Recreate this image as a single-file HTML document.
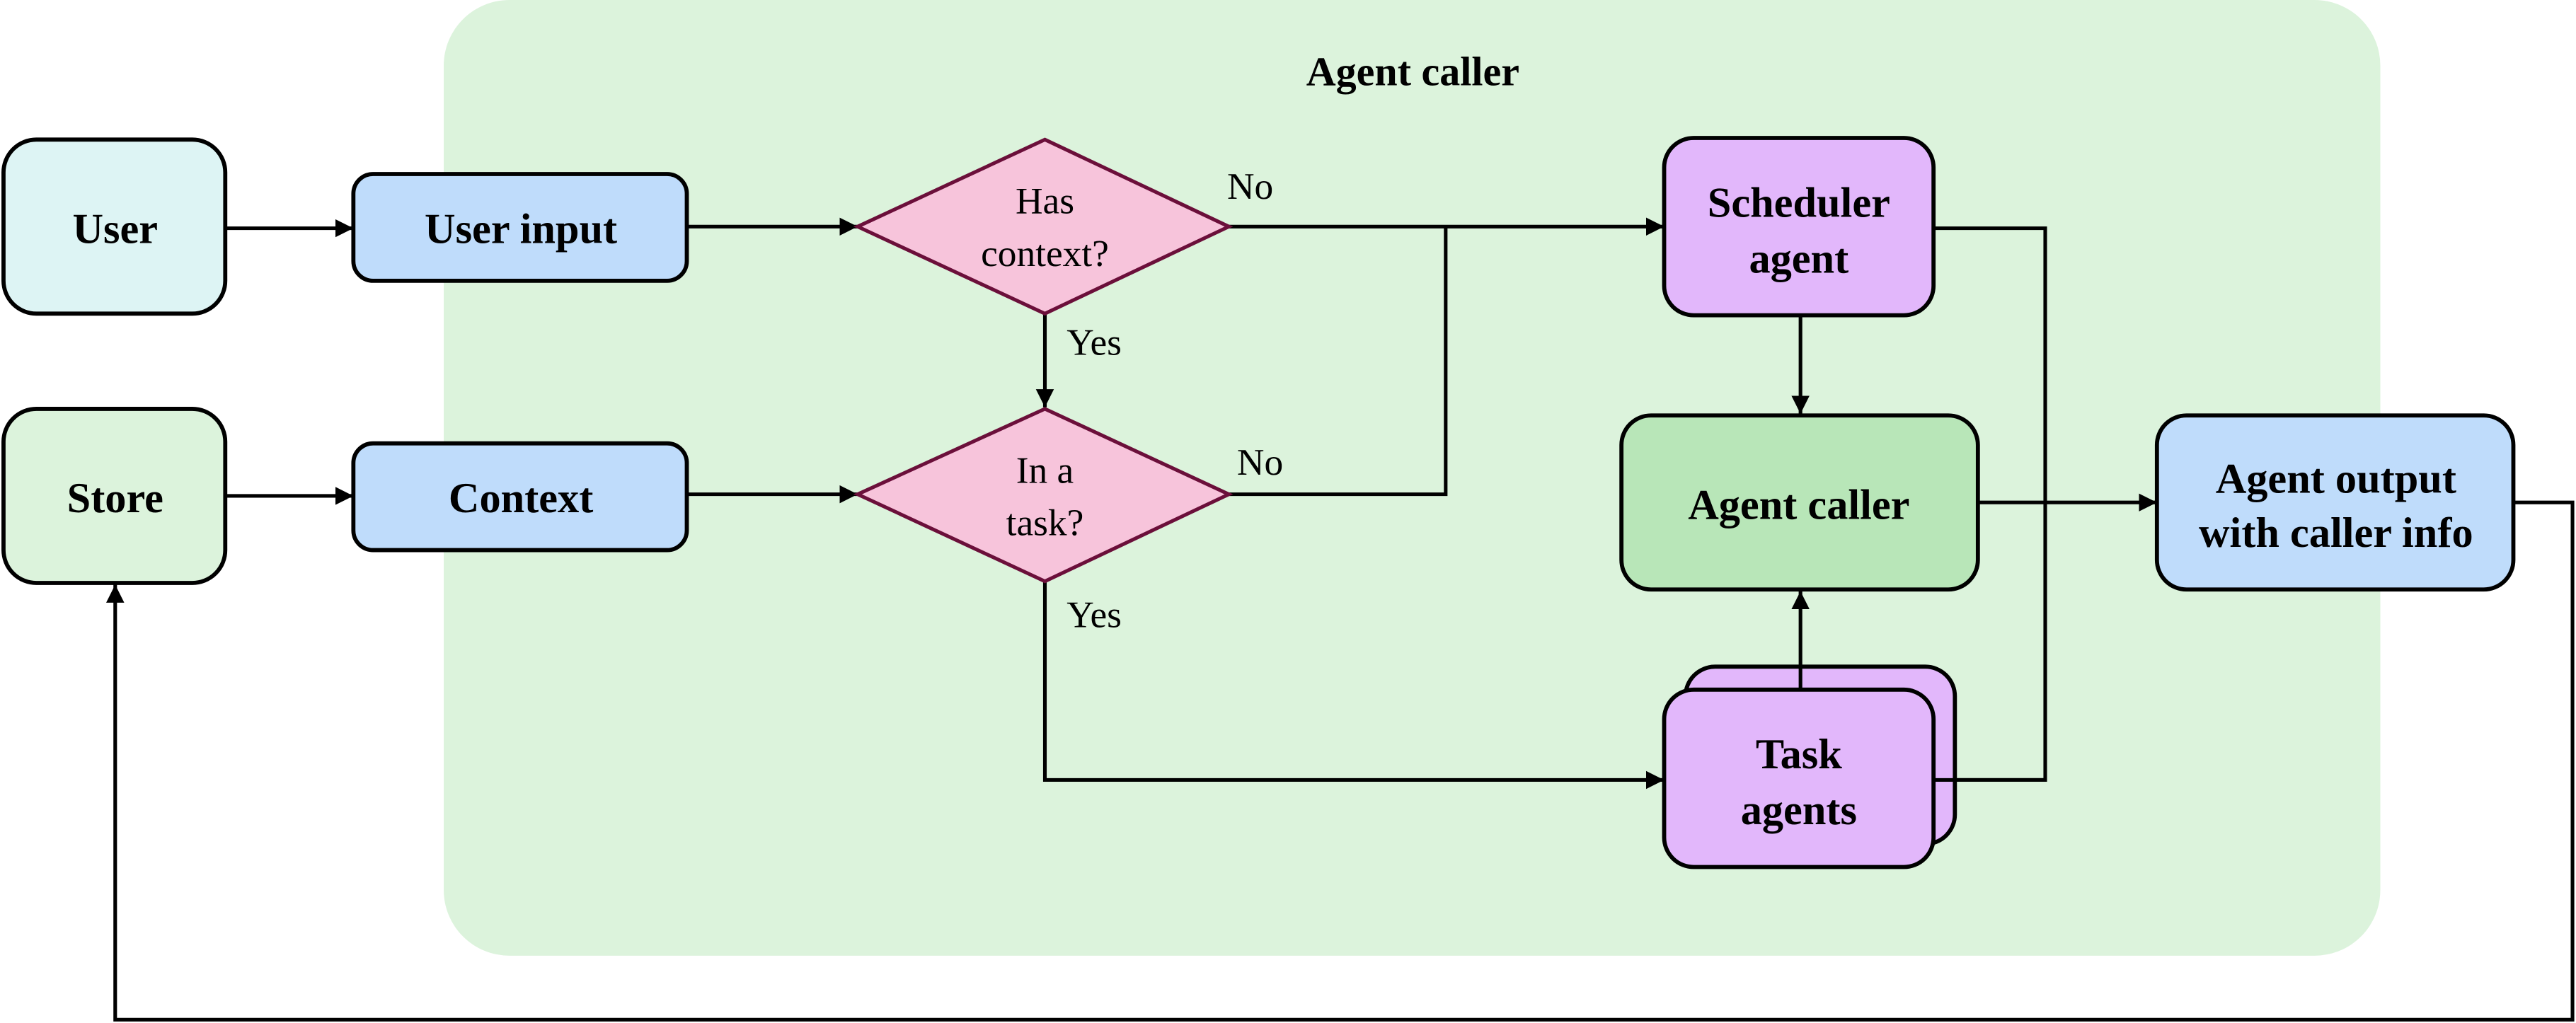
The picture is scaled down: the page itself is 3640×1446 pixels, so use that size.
<!DOCTYPE html>
<html><head><style>html,body{margin:0;padding:0;background:#fff}svg{display:block}text{font-family:"Liberation Serif","Times New Roman",serif}</style></head>
<body>
<svg width="3640" height="1446" viewBox="0 0 1568 623" xmlns="http://www.w3.org/2000/svg">
<defs><marker id="a" viewBox="0 0 10 10" refX="10" refY="5" markerWidth="5" markerHeight="5" orient="auto" markerUnits="strokeWidth"><path d="M0,0L10,5L0,10z" fill="#000"/></marker></defs>
<rect x="270" y="0" width="1179" height="582" rx="40" fill="#dcf3dc"/>
<text x="860" y="52" font-size="25" font-weight="bold" text-anchor="middle">Agent caller</text>
<g stroke="#000" stroke-width="2.2" fill="none">
<line x1="137" y1="139" x2="215" y2="139" marker-end="url(#a)"/>
<line x1="137" y1="302" x2="215" y2="302" marker-end="url(#a)"/>
<line x1="418" y1="138" x2="522" y2="138" marker-end="url(#a)"/>
<line x1="418" y1="301" x2="522" y2="301" marker-end="url(#a)"/>
<line x1="748" y1="138" x2="1013" y2="138" marker-end="url(#a)"/>
<polyline points="748,301 880,301 880,138"/>
<line x1="636" y1="191" x2="636" y2="248" marker-end="url(#a)"/>
<polyline points="636,354 636,475 1013,475" marker-end="url(#a)"/>
<line x1="1096" y1="192" x2="1096" y2="252" marker-end="url(#a)"/>
<polyline points="1177,139 1245,139 1245,475 1177,475"/>
<line x1="1204" y1="306" x2="1313" y2="306" marker-end="url(#a)"/>
<polyline points="1530,306 1566,306 1566,621 70,621 70,356" marker-end="url(#a)"/>
</g>
<g stroke="#000" stroke-width="2.5">
<rect x="2" y="85" width="135" height="106" rx="20" fill="#ddf4f4"/>
<rect x="2" y="249" width="135" height="106" rx="20" fill="#dcf3dc"/>
<rect x="215" y="106" width="203" height="65" rx="12" fill="#bfdcfb"/>
<rect x="215" y="270" width="203" height="65" rx="12" fill="#bfdcfb"/>
<rect x="1013" y="84" width="164" height="108" rx="18" fill="#e2b7fb"/>
<rect x="987" y="253" width="217" height="106" rx="18" fill="#b8e6b8"/>
<rect x="1026" y="406" width="164" height="108" rx="18" fill="#e2b7fb"/>
<rect x="1013" y="420" width="164" height="108" rx="18" fill="#e2b7fb"/>
<rect x="1313" y="253" width="217" height="106" rx="18" fill="#bfdcfb"/>
</g>
<line x1="1177" y1="475" x2="1245" y2="475" stroke="#000" stroke-width="2.2"/>
<line x1="1096" y1="360" x2="1096" y2="420" stroke="#000" stroke-width="2.2" marker-end="url(#a)" transform="rotate(180 1096 390)"/>
<g stroke="#6b0f3a" stroke-width="2.2" fill="#f7c4db">
<polygon points="636,85 748,138 636,191 522,138"/>
<polygon points="636,249 748,301 636,354 522,301"/>
</g>
<g font-size="26" font-weight="bold" text-anchor="middle">
<text x="70" y="148">User</text>
<text x="70" y="312">Store</text>
<text x="317" y="148">User input</text>
<text x="317" y="312">Context</text>
<text x="1095" y="132">Scheduler</text>
<text x="1095" y="166">agent</text>
<text x="1095" y="316">Agent caller</text>
<text x="1095" y="468">Task</text>
<text x="1095" y="502">agents</text>
<text x="1422" y="300">Agent output</text>
<text x="1422" y="333">with caller info</text>
</g>
<g font-size="23" text-anchor="middle">
<text x="636" y="130">Has</text>
<text x="636" y="162">context?</text>
<text x="636" y="294">In a</text>
<text x="636" y="326">task?</text>
<text x="761" y="121">No</text>
<text x="767" y="289">No</text>
<text x="666" y="216">Yes</text>
<text x="666" y="382">Yes</text>
</g>
</svg>
</body></html>
